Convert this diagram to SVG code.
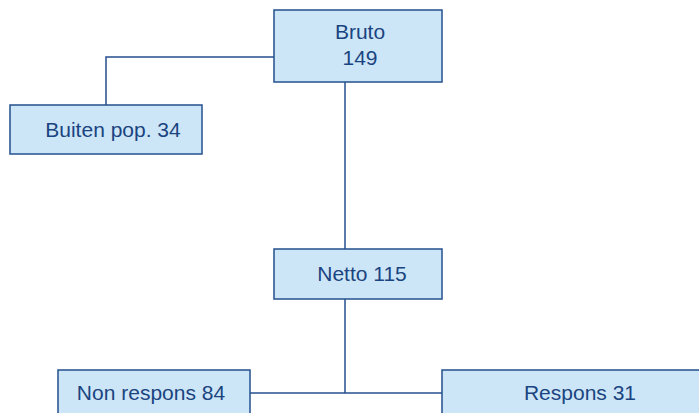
<svg xmlns="http://www.w3.org/2000/svg" width="699" height="413" viewBox="0 0 699 413">
<style>
.box{fill:#cde6f7;stroke:#24508f;stroke-width:1.5}
.t{font-family:"Liberation Sans",Arial,sans-serif;font-size:21px;fill:#1a4480;text-anchor:middle}
.c{fill:none;stroke:#24508f;stroke-width:1.5}
</style>
<rect width="699" height="413" fill="#ffffff"/>
<g id="connectors">
<polyline class="c" points="274,57 106,57 106,105"/>
<line class="c" x1="345" y1="82" x2="345" y2="249"/>
<line class="c" x1="345" y1="299" x2="345" y2="393"/>
<line class="c" x1="250" y1="393" x2="442" y2="393"/>
</g>
<g id="bruto">
<rect class="box" x="274" y="10" width="168" height="72"/>
<text class="t" x="360" y="39">Bruto</text>
<text class="t" x="360" y="65">149</text>
</g>
<g id="buiten">
<rect class="box" x="10" y="105" width="192" height="49"/>
<text class="t" x="113" y="137">Buiten pop. 34</text>
</g>
<g id="netto">
<rect class="box" x="274" y="249" width="168" height="50"/>
<text class="t" x="362" y="281">Netto 115</text>
</g>
<g id="nonrespons">
<rect class="box" x="58" y="370" width="192" height="60"/>
<text class="t" x="151" y="400">Non respons 84</text>
</g>
<g id="respons">
<rect class="box" x="442" y="370" width="280" height="60"/>
<text class="t" x="580" y="400">Respons 31</text>
</g>
</svg>
